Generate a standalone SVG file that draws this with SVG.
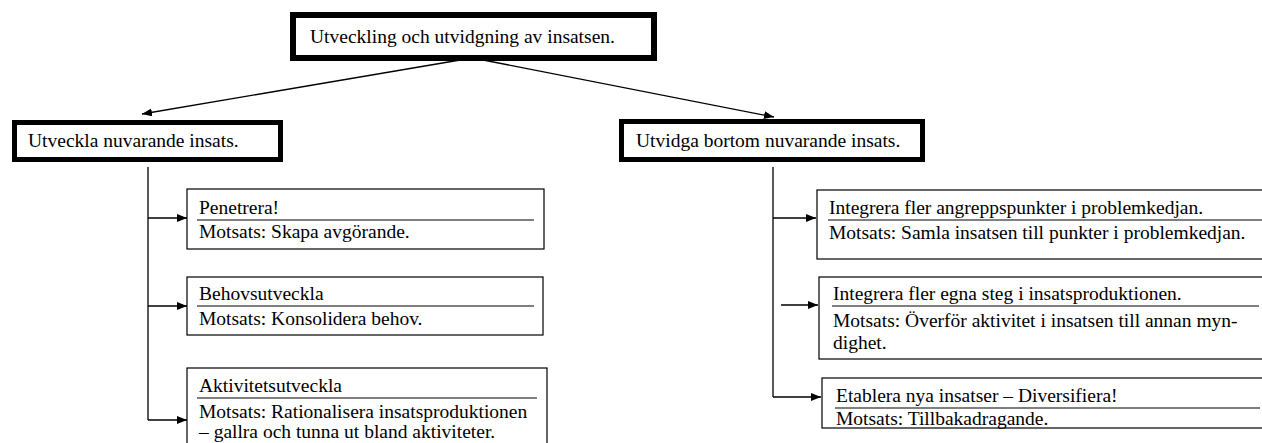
<svg xmlns="http://www.w3.org/2000/svg" width="1262" height="443" viewBox="0 0 1262 443">
  <style>
    .thick { fill: #fff; stroke: #000; }
    .box { fill: #fff; stroke: #000; stroke-width: 1.2; }
    .sep { stroke: #000; stroke-width: 1.2; }
    .conn { fill: none; stroke: #000; stroke-width: 1.3; }
  </style>
  <defs>
    <marker id="arrow" markerWidth="10" markerHeight="8" refX="10" refY="4" orient="auto" markerUnits="userSpaceOnUse">
      <path d="M0,0 L10,4 L0,8 Z" fill="#000"/>
    </marker>
  </defs>
  <rect width="1262" height="443" fill="#fff"/>

  <!-- connectors -->
  <g id="connectors">
    <line class="conn" x1="466" y1="59" x2="142" y2="114" marker-end="url(#arrow)"/>
    <line class="conn" x1="478" y1="59" x2="774" y2="117" marker-end="url(#arrow)"/>
    <polyline class="conn" points="148,167 148,420"/>
    <line class="conn" x1="148" y1="218" x2="187" y2="218" marker-end="url(#arrow)"/>
    <line class="conn" x1="148" y1="306" x2="187" y2="306" marker-end="url(#arrow)"/>
    <line class="conn" x1="148" y1="420" x2="187" y2="420" marker-end="url(#arrow)"/>
    <polyline class="conn" points="773,167 773,397"/>
    <line class="conn" x1="773" y1="218" x2="816" y2="218" marker-end="url(#arrow)"/>
    <line class="conn" x1="781" y1="305" x2="818" y2="305" marker-end="url(#arrow)"/>
    <line class="conn" x1="773" y1="397" x2="821" y2="397" marker-end="url(#arrow)"/>
  </g>

  <g font-family="'Liberation Serif', 'Times New Roman', serif" font-size="19.5" fill="#000">
    <!-- root -->
    <g id="root">
      <rect class="thick" x="293" y="15" width="361" height="43" stroke-width="6"/>
      <text x="310" y="43">Utveckling och utvidgning av insatsen.</text>
    </g>

    <!-- branch: develop -->
    <g id="develop">
      <rect class="thick" x="14.5" y="122.5" width="266" height="37" stroke-width="5"/>
      <text x="28" y="147">Utveckla nuvarande insats.</text>
    </g>

    <!-- branch: expand -->
    <g id="expand">
      <rect class="thick" x="621.5" y="121.5" width="301" height="38" stroke-width="5"/>
      <text x="636" y="147">Utvidga bortom nuvarande insats.</text>
    </g>

    <!-- develop children -->
    <g id="penetrera">
      <rect class="box" x="187" y="189" width="357" height="60"/>
      <text x="199" y="214">Penetrera!</text>
      <line class="sep" x1="197" y1="220" x2="534" y2="220"/>
      <text x="199" y="238">Motsats: Skapa avgörande.</text>
    </g>

    <g id="behovsutveckla">
      <rect class="box" x="187" y="277" width="356" height="58"/>
      <text x="199" y="300">Behovsutveckla</text>
      <line class="sep" x1="197" y1="306" x2="534" y2="306"/>
      <text x="199" y="325">Motsats: Konsolidera behov.</text>
    </g>

    <g id="aktivitetsutveckla">
      <rect class="box" x="187" y="368" width="360" height="80"/>
      <text x="199" y="392">Aktivitetsutveckla</text>
      <line class="sep" x1="197" y1="398" x2="537" y2="398"/>
      <text x="199" y="418">Motsats: Rationalisera insatsproduktionen</text>
      <text x="199" y="438">– gallra och tunna ut bland aktiviteter.</text>
    </g>

    <!-- expand children -->
    <g id="angreppspunkter">
      <rect class="box" x="817" y="190" width="450" height="69"/>
      <text x="829" y="214">Integrera fler angreppspunkter i problemkedjan.</text>
      <line class="sep" x1="828" y1="220" x2="1262" y2="220"/>
      <text x="829" y="239">Motsats: Samla insatsen till punkter i problemkedjan.</text>
    </g>

    <g id="egna-steg">
      <rect class="box" x="819" y="277" width="448" height="82"/>
      <text x="833" y="300">Integrera fler egna steg i insatsproduktionen.</text>
      <line class="sep" x1="832" y1="306" x2="1259" y2="306"/>
      <text x="833" y="327">Motsats: Överför aktivitet i insatsen till annan myn-</text>
      <text x="833" y="349">dighet.</text>
    </g>

    <g id="diversifiera">
      <rect class="box" x="822" y="378" width="445" height="50"/>
      <text x="836" y="402">Etablera nya insatser – Diversifiera!</text>
      <line class="sep" x1="835" y1="408" x2="1260" y2="408"/>
      <text x="836" y="425">Motsats: Tillbakadragande.</text>
    </g>
  </g>
</svg>
